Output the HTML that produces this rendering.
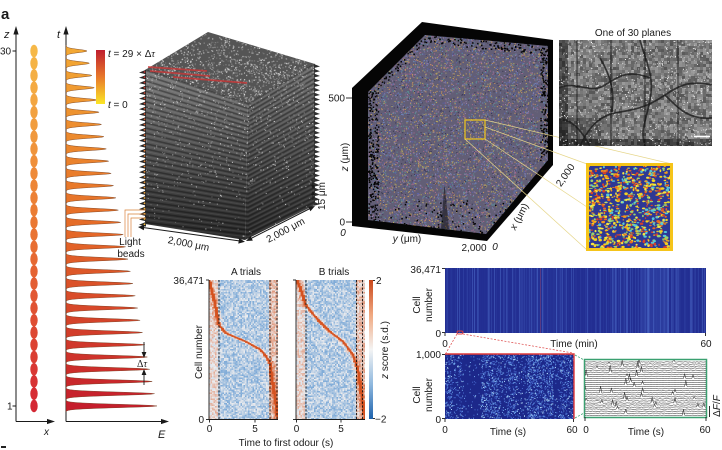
<!DOCTYPE html>
<html><head><meta charset="utf-8">
<style>
html,body{margin:0;padding:0;background:#fff;}
svg{display:block;}
text{font-family:"Liberation Sans",Arial,sans-serif;font-size:10px;fill:#1a1a1a;}
.it{font-style:italic;}
.sf{font-family:"Liberation Serif",serif;}
</style></head><body>
<svg id="s" width="722" height="450" viewBox="0 0 722 450" xmlns="http://www.w3.org/2000/svg">
<defs>
 <linearGradient id="gT" x1="0" y1="0" x2="0" y2="1"><stop offset="0" stop-color="#bf1e2e"/><stop offset="0.5" stop-color="#e8792b"/><stop offset="1" stop-color="#fbe626"/></linearGradient>
 <linearGradient id="gZ" x1="0" y1="0" x2="0" y2="1"><stop offset="0" stop-color="#c9471b"/><stop offset="0.25" stop-color="#f0a880"/><stop offset="0.5" stop-color="#f4f4f4"/><stop offset="0.75" stop-color="#8fb8de"/><stop offset="1" stop-color="#1d62ad"/></linearGradient>
 <linearGradient id="gLF" x1="0" y1="0" x2="0" y2="1"><stop offset="0" stop-color="#7a7a7a"/><stop offset="0.45" stop-color="#555"/><stop offset="1" stop-color="#2a2a2a"/></linearGradient>
 <linearGradient id="gRF" x1="0" y1="0" x2="0" y2="1"><stop offset="0" stop-color="#6e6e6e"/><stop offset="0.5" stop-color="#4e4e4e"/><stop offset="1" stop-color="#2c2c2c"/></linearGradient>
 <clipPath id="cStack"><polygon points="145,70 208,32 315,64 315,205 245,240 145,224"/></clipPath>
 <clipPath id="cTop"><polygon points="145,70 208,32 315,64 248,104"/></clipPath>
 <clipPath id="cScat"><polygon points="368,92 425,35 548,46 548,160 486,234 368,220"/></clipPath>
 <clipPath id="cIn"><rect x="589" y="166" width="81" height="82"/></clipPath>
 <clipPath id="cPl"><rect x="559" y="40" width="153" height="106"/></clipPath>
 <clipPath id="cA"><rect x="209" y="280" width="69" height="139"/></clipPath>
 <clipPath id="cB"><rect x="296" y="280" width="69" height="139"/></clipPath>
 <clipPath id="cH1"><rect x="445" y="268" width="261" height="65"/></clipPath>
 <clipPath id="cH2"><rect x="445" y="354" width="129" height="65"/></clipPath>
 <clipPath id="cG"><rect x="585" y="360" width="121" height="57"/></clipPath>
</defs>

<!-- panel label -->
<text x="1" y="19" style="font-size:15px;font-weight:bold;">a</text>
<rect x="1" y="446" width="5" height="2" fill="#222"/>

<!-- left axes -->
<g stroke="#1a1a1a" stroke-width="1" fill="none">
 <line x1="16" y1="33" x2="16" y2="421.5"/>
 <line x1="16" y1="421.5" x2="50" y2="421.5"/>
 <line x1="66" y1="33" x2="66" y2="421.5"/>
 <line x1="66" y1="421.5" x2="164" y2="421.5"/>
 <line x1="12.5" y1="51" x2="16" y2="51"/>
 <line x1="12.5" y1="406" x2="16" y2="406"/>
</g>
<g fill="#1a1a1a">
 <polygon points="16,26 13.4,34.5 18.6,34.5"/>
 <polygon points="55,421.5 47,418.9 47,424.1"/>
 <polygon points="66,26 63.4,34.5 68.6,34.5"/>
 <polygon points="169,421.5 161,418.9 161,424.1"/>
</g>
<text x="4" y="38" class="it" style="font-size:11px">z</text>
<text x="57" y="38" class="it" style="font-size:11px">t</text>
<text x="0" y="54.5">30</text>
<text x="7" y="409.5">1</text>
<text x="44" y="435" class="it">x</text>
<text x="158" y="438" class="it" style="font-size:11px">E</text>

<g id="dots"></g>
<g id="pulses"></g>

<!-- colour bar -->
<rect x="96" y="50" width="9" height="54" fill="url(#gT)"/>
<text x="108" y="57"><tspan class="it">t</tspan> = 29 × Δ<tspan class="sf it">τ</tspan></text>
<text x="108" y="108"><tspan class="it">t</tspan> = 0</text>

<!-- delta tau -->
<g stroke="#1a1a1a" stroke-width="0.9">
 <line x1="144" y1="342" x2="144" y2="353"/>
 <line x1="144" y1="385" x2="144" y2="374"/>
</g>
<g fill="#1a1a1a">
 <polygon points="144,358 141.6,352 146.4,352"/>
 <polygon points="144,369 141.6,375 146.4,375"/>
</g>
<text x="137" y="367" class="sf">Δ<tspan class="it">τ</tspan></text>

<!-- stack -->
<polygon points="145,70 208,32 315,64 248,104" fill="#555"/>
<polygon points="145,70 248,104 245,240 145,224" fill="url(#gLF)"/>
<polygon points="248,104 315,64 315,205 245,240" fill="url(#gRF)"/>
<g id="topTex" clip-path="url(#cTop)"></g>
<g id="stackTex" clip-path="url(#cStack)"></g>
<g stroke="#c43838" stroke-width="1.8" opacity="0.85">
 <line x1="148" y1="67" x2="207" y2="71"/>
 <line x1="150" y1="71" x2="210" y2="76"/>
 <line x1="173" y1="77" x2="247" y2="83"/>
</g>
<g id="teeth"></g>
<g stroke="#d9823a" stroke-width="0.7" fill="none">
 <polyline points="125,237 125,210 146,210"/>
 <polyline points="128,237 128,214 146,214"/>
 <polyline points="131,237 131,218 146,218"/>
</g>
<text x="130" y="245" text-anchor="middle">Light</text>
<text x="131" y="257" text-anchor="middle">beads</text>
<g stroke="#1a1a1a" stroke-width="1">
 <line x1="143" y1="227.5" x2="240" y2="241"/>
 <line x1="250" y1="239" x2="311" y2="208"/>
 <line x1="313" y1="180" x2="313" y2="186"/>
 <line x1="313" y1="200" x2="313" y2="194"/>
</g>
<g fill="#1a1a1a">
 <polygon points="138,227 144.5,224.9 143.8,230.2"/>
 <polygon points="245,241.7 238.3,243.6 239.1,238.3"/>
 <polygon points="246,241 250.6,236 252.8,240.6"/>
 <polygon points="315,206 310.4,211.3 308.2,206.6"/>
 <polygon points="313,189 311,185 315,185"/>
 <polygon points="313,191 311,195 315,195"/>
</g>
<text transform="translate(188,247) rotate(11)" text-anchor="middle">2,000 μm</text>
<text transform="translate(287,233) rotate(-28)" text-anchor="middle">2,000 μm</text>
<text transform="translate(325,196) rotate(-90)" text-anchor="middle">15 μm</text>

<!-- 3D scatter -->
<polygon points="352,88 422,22 553,40 553,165 487,241 352,226" fill="#050505"/>
<polygon points="368,92 425,35 548,46 548,160 486,234 368,220" fill="rgb(98,94,118)"/>
<g id="scat" clip-path="url(#cScat)"></g>
<polygon points="441,229 444.5,183 449,229" fill="rgba(0,0,0,0.45)"/>
<g stroke="#1a1a1a" stroke-width="0.9">
 <line x1="346" y1="98" x2="352" y2="98"/>
 <line x1="346" y1="222" x2="352" y2="222"/>
</g>
<text x="345" y="101.5" text-anchor="end">500</text>
<text x="345" y="225.5" text-anchor="end">0</text>
<text transform="translate(348,157) rotate(-90)" text-anchor="middle"><tspan class="it">z</tspan> (μm)</text>
<text x="343" y="236" class="it" text-anchor="middle">0</text>
<text x="407" y="242" text-anchor="middle"><tspan class="it">y</tspan> (μm)</text>
<text x="474" y="251" text-anchor="middle">2,000</text>
<text x="495" y="250" class="it" text-anchor="middle">0</text>
<text transform="translate(522,218) rotate(-62)" text-anchor="middle"><tspan class="it">x</tspan> (μm)</text>
<text transform="translate(568,177) rotate(-55)" text-anchor="middle">2,000</text>
<rect x="465" y="120" width="20" height="19" fill="none" stroke="#e8c020" stroke-width="1.3"/>
<g stroke="#e6d68a" stroke-width="0.7">
 <line x1="485" y1="120" x2="672" y2="164"/>
 <line x1="485" y1="127" x2="587" y2="164"/>
 <line x1="485" y1="139" x2="587" y2="207"/>
 <line x1="465" y1="139" x2="587" y2="250"/>
</g>

<!-- plane -->
<text x="633" y="36" text-anchor="middle">One of 30 planes</text>
<rect x="559" y="40" width="153" height="106" fill="#555"/>
<g id="plane" clip-path="url(#cPl)"></g>
<line x1="694" y1="136.5" x2="710" y2="136.5" stroke="#fff" stroke-width="1.6"/>

<!-- inset -->
<rect x="587.5" y="164.5" width="84" height="85" fill="#2e3894" stroke="#f5c41a" stroke-width="3"/>
<g id="inset" clip-path="url(#cIn)"></g>

<!-- trial heatmaps -->
<text x="246" y="275" text-anchor="middle">A trials</text>
<text x="334" y="275" text-anchor="middle">B trials</text>
<g id="trA" clip-path="url(#cA)"></g>
<g id="trB" clip-path="url(#cB)"></g>
<g stroke="#111" stroke-width="0.9" stroke-dasharray="2.2,1.6">
 <line x1="219" y1="280" x2="219" y2="419"/>
 <line x1="270" y1="280" x2="270" y2="419"/>
 <line x1="277" y1="280" x2="277" y2="419"/>
 <line x1="306" y1="280" x2="306" y2="419"/>
 <line x1="356.5" y1="280" x2="356.5" y2="419"/>
 <line x1="362.5" y1="280" x2="362.5" y2="419"/>
</g>
<g stroke="#1a1a1a" stroke-width="0.9" fill="none">
 <polyline points="209,280 209,419.5 278,419.5"/>
 <polyline points="296,280 296,419.5 365,419.5"/>
 <line x1="206" y1="280" x2="209" y2="280"/>
 <line x1="206" y1="419.5" x2="209" y2="419.5"/>
 <line x1="293" y1="280" x2="296" y2="280"/>
 <line x1="293" y1="419.5" x2="296" y2="419.5"/>
 <line x1="209.5" y1="419.5" x2="209.5" y2="422.5"/>
 <line x1="255" y1="419.5" x2="255" y2="422.5"/>
 <line x1="296.5" y1="419.5" x2="296.5" y2="422.5"/>
 <line x1="341" y1="419.5" x2="341" y2="422.5"/>
</g>
<rect x="369" y="280" width="4" height="139" fill="url(#gZ)"/>
<g stroke="#1a1a1a" stroke-width="0.9"><line x1="373" y1="280.5" x2="375" y2="280.5"/><line x1="373" y1="418.5" x2="375" y2="418.5"/></g>
<text x="376" y="284">2</text>
<text x="375" y="422.5">−2</text>
<text transform="translate(388,350) rotate(-90)" text-anchor="middle"><tspan class="it">z</tspan> score (s.d.)</text>
<text x="204" y="284" text-anchor="end">36,471</text>
<text x="204" y="423" text-anchor="end">0</text>
<text transform="translate(202,352) rotate(-90)" text-anchor="middle">Cell number</text>
<text x="209.5" y="432" text-anchor="middle">0</text>
<text x="255" y="432" text-anchor="middle">5</text>
<text x="296.5" y="432" text-anchor="middle">0</text>
<text x="341" y="432" text-anchor="middle">5</text>
<text x="286" y="446" text-anchor="middle">Time to first odour (s)</text>

<!-- bottom right -->
<rect x="445" y="268" width="261" height="65" fill="rgb(34,46,146)"/>
<g id="h1" clip-path="url(#cH1)"></g>
<rect x="445" y="354" width="129" height="65" fill="rgb(28,40,138)"/>
<g id="h2" clip-path="url(#cH2)"></g>
<polyline points="445,354 574,354 574,419" fill="none" stroke="#e03a3a" stroke-width="1.4"/>
<rect x="457" y="331" width="6" height="3" rx="1.5" fill="none" stroke="#e03a3a" stroke-width="0.9"/>
<g stroke="#e05a5a" stroke-width="0.8" stroke-dasharray="2,1.5">
 <line x1="457" y1="334" x2="446" y2="353"/>
 <line x1="463" y1="334" x2="573" y2="353"/>
</g>
<g stroke="#3aa070" stroke-width="0.8" stroke-dasharray="2,1.5">
 <line x1="575" y1="355" x2="584" y2="360"/>
 <line x1="575" y1="418" x2="584" y2="413"/>
</g>
<rect x="584.5" y="359.5" width="122" height="58" fill="#fff" stroke="#3aa070" stroke-width="1.5"/>
<g id="tr" clip-path="url(#cG)"></g>
<g stroke="#1a1a1a" stroke-width="0.9">
 <line x1="442" y1="268.5" x2="445" y2="268.5"/>
 <line x1="442" y1="332.5" x2="445" y2="332.5"/>
 <line x1="442" y1="354.5" x2="445" y2="354.5"/>
 <line x1="442" y1="418.5" x2="445" y2="418.5"/>
 <line x1="445" y1="333" x2="445" y2="336"/>
 <line x1="705.5" y1="333" x2="705.5" y2="336"/>
 <line x1="445" y1="419" x2="445" y2="422"/>
 <line x1="573.5" y1="419" x2="573.5" y2="422"/>
 <line x1="585" y1="417" x2="585" y2="421"/>
 <line x1="706" y1="417" x2="706" y2="421"/>
 <line x1="709.5" y1="406" x2="709.5" y2="417"/>
</g>
<text x="441" y="273" text-anchor="end">36,471</text>
<text x="441" y="337" text-anchor="end">0</text>
<text transform="translate(420,305) rotate(-90)" text-anchor="middle">Cell</text>
<text transform="translate(432,305) rotate(-90)" text-anchor="middle">number</text>
<text x="445" y="347" text-anchor="middle">0</text>
<text x="574" y="347" text-anchor="middle">Time (min)</text>
<text x="706" y="347" text-anchor="middle">60</text>
<text x="441" y="358" text-anchor="end">1,000</text>
<text x="441" y="423" text-anchor="end">0</text>
<text transform="translate(420,395) rotate(-90)" text-anchor="middle">Cell</text>
<text transform="translate(432,395) rotate(-90)" text-anchor="middle">number</text>
<text x="445" y="433" text-anchor="middle">0</text>
<text x="508" y="435" text-anchor="middle">Time (s)</text>
<text x="572" y="433" text-anchor="middle">60</text>
<text x="586" y="433" text-anchor="middle">0</text>
<text x="646" y="435" text-anchor="middle">Time (s)</text>
<text x="705" y="433" text-anchor="middle">60</text>
<text transform="translate(720,406) rotate(-90)" text-anchor="middle">Δ<tspan class="it">F</tspan>/<tspan class="it">F</tspan></text>
</svg>
<script>
(function(){
function Mb(a){return function(){a|=0;a=a+0x6D2B79F5|0;var t=Math.imul(a^a>>>15,1|a);t=t+Math.imul(t^t>>>7,61|t)^t;return((t^t>>>14)>>>0)/4294967296;};}
var R=Mb(20240601);
function L(a,b,t){return a+(b-a)*t;}
function C(r,g,b){return 'rgb('+Math.round(r)+','+Math.round(g)+','+Math.round(b)+')';}
function $(id){return document.getElementById(id);}
function f2(v){return v.toFixed(1);}
var s='',s2='',i,k,x,y;

// pulses and dots
for(i=0;i<30;i++){
 var yc=51+i*12.24,len=21+i*70/29,f=i/29,c,dc,t;
 if(f<0.5){t=f*2;c=[L(243,229,t),L(168,106,t),L(52,40,t)];dc=[L(246,234,t),L(184,118,t),L(72,50,t)];}
 else{t=(f-0.5)*2;c=[L(229,197,t),L(106,30,t),L(40,44,t)];dc=[L(234,212,t),L(118,40,t),L(50,52,t)];}
 var d='M66,'+(yc-6).toFixed(2);
 for(y=-6;y<=6.001;y+=0.5){d+='L'+(66+len*Math.exp(-Math.pow(y/2.3,2))).toFixed(2)+','+(yc+y).toFixed(2);}
 s+='<path d="'+d+'Z" fill="'+C(c[0],c[1],c[2])+'" stroke="#6b3414" stroke-width="0.4"/>';
 s2+='<ellipse cx="34" cy="'+yc.toFixed(2)+'" rx="3.7" ry="6.3" fill="'+C(dc[0],dc[1],dc[2])+'"/>';
}
$('pulses').innerHTML=s;$('dots').innerHTML=s2;

// top face texture
s='';
for(i=0;i<1500;i++){x=145+R()*170;y=32+R()*72;var bt=110+R()*130;
 s+='<rect x="'+f2(x)+'" y="'+f2(y)+'" width="1.3" height="1.3" fill="'+C(bt,bt,bt)+'" opacity="'+(0.4+R()*0.5).toFixed(2)+'"/>';}
$('topTex').innerHTML=s;

// stack texture
s='';
for(k=0;k<30;k++){var y1=70+k*5.25,y2=104+k*4.5,y3=64+k*4.75;
 s+='<polyline points="145,'+f2(y1)+' 248,'+f2(y2)+' 315,'+f2(y3)+'" fill="none" stroke="rgba(0,0,0,0.32)" stroke-width="1.6"/>';
 s+='<polyline points="145,'+f2(y1+2.4)+' 248,'+f2(y2+2.4)+' 315,'+f2(y3+2.4)+'" fill="none" stroke="rgba(255,255,255,0.07)" stroke-width="1"/>';
}
for(i=0;i<2600;i++){x=140+R()*180;y=60+R()*182;var top=(240-y)/180;if(R()>top*0.85+0.08)continue;var b=140+R()*115;
 s+='<rect x="'+f2(x)+'" y="'+f2(y)+'" width="1.1" height="1.1" fill="'+C(b,b,b)+'" opacity="'+(0.3+R()*0.5).toFixed(2)+'"/>';}
$('stackTex').innerHTML=s;

// teeth
s='';
for(k=0;k<30;k++){var yl=72+k*5.25,ff=k/29;
 s+='<polygon points="146,'+f2(yl-2.3)+' 139,'+f2(yl+0.6)+' 146,'+f2(yl+2.3)+'" fill="#262626"/>';
 s+='<circle cx="144.5" cy="'+f2(yl)+'" r="0.9" fill="'+C(L(200,245,ff),L(50,190,ff),L(50,60,ff))+'"/>';
 var yr=66+k*4.75;
 s+='<polygon points="314,'+f2(yr-2)+' 320,'+f2(yr+0.5)+' 314,'+f2(yr+2)+'" fill="#303030"/>';
}
$('teeth').innerHTML=s;

// scatter
s='';
var cols=[[145,125,170],[90,98,165],[190,145,95],[180,165,95],[90,140,145],[60,58,85],[160,105,140],[110,130,185],[110,105,125]];
for(i=0;i<9000;i++){x=365+R()*186;y=32+R()*205;var cc=cols[(R()*cols.length)|0];
 s+='<rect x="'+f2(x)+'" y="'+f2(y)+'" width="1.1" height="1.1" fill="'+C(cc[0],cc[1],cc[2])+'"/>';}
for(i=0;i<600;i++){var e=R(),px,py;
 if(e<0.3){py=92+R()*128;px=368+R()*10;}else if(e<0.55){px=368+R()*180;py=L(92,35,Math.min(1,(px-368)/57))+R()*8;if(px>425)py=L(35,46,(px-425)/123)+R()*8;}
 else if(e<0.8){px=540+R()*8;py=46+R()*114;}else{px=368+R()*180;py=200+R()*35;}
 s+='<rect x="'+f2(px)+'" y="'+f2(py)+'" width="1.5" height="1.5" fill="#050505"/>';}
$('scat').innerHTML=s;

// inset
s='';
var ic=['#f4d31f','#f09a1e','#d8402a','#55c8d8','#9ad46a','#f6e640','#e86a24'];
for(i=0;i<850;i++){s+='<ellipse cx="'+f2(589+R()*81)+'" cy="'+f2(166+R()*82)+'" rx="'+f2(0.7+R()*1.2)+'" ry="'+f2(0.5+R()*0.9)+'" fill="'+ic[(R()*ic.length)|0]+'"/>';}
$('inset').innerHTML=s;

// plane
s='';
for(x=559;x<712;x+=3){for(y=40;y<146;y+=3){
 var v=85+R()*70; if(x<566)v*=0.6; if(y>138)v*=0.6; if(x<600&&y>115)v*=0.75;
 s+='<rect x="'+x+'" y="'+y+'" width="3" height="3" fill="'+C(v,v,v)+'"/>';}}
for(i=0;i<900;i++){var bb=180+R()*75;s+='<rect x="'+f2(559+R()*153)+'" y="'+f2(40+R()*106)+'" width="1" height="1" fill="'+C(bb,bb,bb)+'"/>';}
var veins=['M559,88 C575,80 590,95 605,85 S630,70 650,78','M580,146 C590,125 600,115 620,112 S650,105 665,95 S690,80 712,85','M600,58 C610,75 615,90 612,112','M640,40 C645,60 655,75 650,100 S640,130 645,146','M665,95 C680,110 690,120 712,118','M559,120 C570,118 580,128 590,146'];
for(i=0;i<veins.length;i++){s+='<path d="'+veins[i]+'" fill="none" stroke="#1c1c1c" stroke-width="1.7" opacity="0.8"/>';}
[577,611,645,678].forEach(function(xx){s+='<line x1="'+xx+'" y1="40" x2="'+xx+'" y2="146" stroke="#111" stroke-width="0.8"/>';});
$('plane').innerHTML=s;

// trials
function dv(v){v=Math.max(-1,Math.min(1,v));var t;
 if(v<0){t=-v;return C(L(236,50,t),L(236,125,t),L(238,200,t));}
 t=v;return C(L(236,215,t),L(236,90,t),L(238,40,t));}
function curveT(pts,ry){for(var j=1;j<pts.length;j++){if(ry<=pts[j][1]){var a=pts[j-1],b=pts[j];var tt=(ry-a[1])/Math.max(1e-6,b[1]-a[1]);return L(a[0],b[0],tt);}}return pts[pts.length-1][0];}
var pA=[[0,0],[0.082,0.156],[0.145,0.324],[0.251,0.384],[0.541,0.444],[0.758,0.504],[0.879,0.588],[0.937,0.78],[1,1]];
var pB=[[0.01,0],[0.082,0.084],[0.14,0.18],[0.3,0.276],[0.493,0.372],[0.686,0.444],[0.83,0.54],[0.903,0.66],[0.952,0.827],[1,1]];
function trial(id,x0,pts){var out='';
 for(var cx=0;cx<46;cx++){for(var cy=0;cy<93;cy++){
  var tx=(cx+0.5)/46,ry=(cy+0.5)/93;var v=(R()-0.5)*0.6;
  var T=curveT(pts,ry),dd=tx-T;
  if(tx<0.13)v+=0.15;else if(tx>0.87)v+=0.3;else v-=0.3;
  if(Math.abs(dd)<0.06)v+=0.25;
  if(Math.abs(dd)<0.025)v+=0.8;
  out+='<rect x="'+f2(x0+cx*1.5)+'" y="'+f2(280+cy*1.5)+'" width="1.5" height="1.5" fill="'+dv(v)+'"/>';}}
 var pl='';for(var j=0;j<=60;j++){var ry2=j/60;pl+=f2(x0+curveT(pts,ry2)*69)+','+f2(280+ry2*139)+' ';}
 out+='<polyline points="'+pl+'" fill="none" stroke="#d4501e" stroke-width="1.8" opacity="0.9"/>';
 $(id).innerHTML=out;}
trial('trA',209,pA);trial('trB',296,pB);

// top heatmap
s='';
for(x=445;x<706;x++){var tt=Math.pow(R(),4)*0.4;if(x>=640&&x<=668)tt+=0.15;if(x>=520&&x<560)tt+=0.03;
 s+='<rect x="'+x+'" y="268" width="1" height="65" fill="'+C(L(34,95,tt),L(46,135,tt),L(146,225,tt))+'"/>';}
s+='<line x1="540.5" y1="268" x2="540.5" y2="333" stroke="rgb(110,55,115)" stroke-width="0.7"/>';
$('h1').innerHTML=s;

// bottom heatmap
s='';
function dens(x){if(x<452)return 0.55;if(x<463)return 0.3;if(x<481)return 0.08;if(x<500)return 0.6;if(x<507)return 0.3;if(x<517)return 0.55;if(x<527)return 0.2;if(x<553)return 0.65;if(x<560)return 0.25;return 0.5;}
for(i=0;i<5200;i++){x=445+R()*129;y=354+R()*65;if(R()>dens(x))continue;var q=R();
 s+='<rect x="'+f2(x)+'" y="'+f2(y)+'" width="1" height="1" fill="'+(q<0.55?'rgb(70,105,205)':(q<0.88?'rgb(110,165,235)':'rgb(180,220,250)'))+'"/>';}
$('h2').innerHTML=s;

// traces
s='';
for(k=0;k<27;k++){var y0=362+k*2.05,pts='';
 for(x=585;x<=707;x+=1.2){var yy=y0+(R()-0.5)*0.5;if(R()<0.018)yy-=2+R()*5;pts+=f2(x)+','+f2(yy)+' ';}
 s+='<polyline points="'+pts+'" fill="none" stroke="#222" stroke-width="0.5"/>';}
$('tr').innerHTML=s;
})();
</script>
</body></html>
